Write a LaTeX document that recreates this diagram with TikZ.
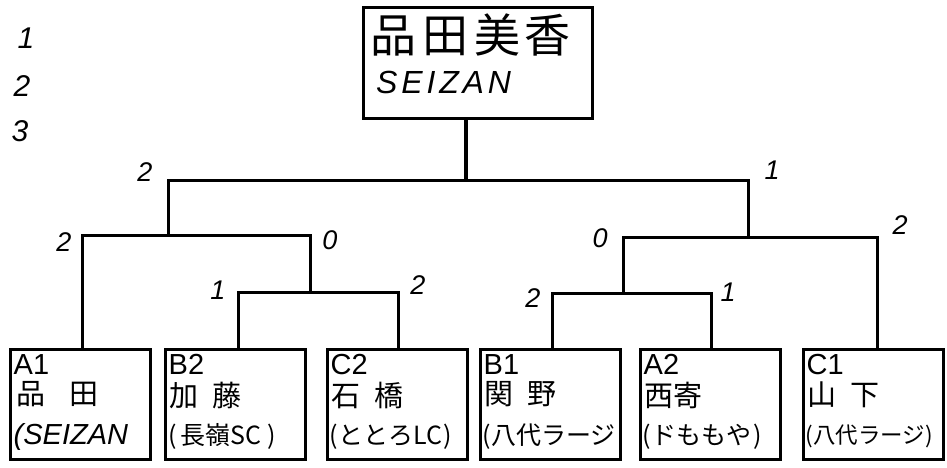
\documentclass[tikz,border=0pt]{standalone}
\usepackage{fontspec}
\setmainfont{Liberation Sans}
\newfontfamily\jp{Noto Sans CJK JP}
\begin{document}
\begin{tikzpicture}[x=1pt,y=-1pt,
  line/.style={line width=3pt,line cap=rect},
  box/.style={draw,line width=3pt,minimum width=140pt,minimum height=110pt,inner sep=0pt},
  topbox/.style={draw,line width=3pt,minimum width=229pt,minimum height=111pt,inner sep=0pt},
  seed/.style={anchor=north west,inner sep=0pt,font=\fontsize{29}{29}\selectfont},
  nm/.style={anchor=north west,inner sep=0pt,font=\jp\fontsize{29}{29}\selectfont},
  club/.style={anchor=north west,inner sep=0pt,font=\jp\fontsize{25}{25}\selectfont},
  score/.style={inner sep=0pt,font=\fontsize{27}{27}\selectfont\itshape},
  rank/.style={inner sep=0pt,font=\fontsize{30}{30}\selectfont\itshape}]
\useasboundingbox (0,0) rectangle (947,467);
\fill[white] (0,0) rectangle (947,467);

% rank list
\node[rank] (r1) at (26,38) {1};
\node[rank] (r2) at (22,86) {2};
\node[rank] (r3) at (20,131) {3};

% top box
\node[topbox] (top) at (477.5,62.5) {};
\node[anchor=north west,inner sep=0pt,font=\jp\fontsize{46}{46}\selectfont] (topname) at (370,14) {品\hspace{6pt}田\hspace{6pt}美\hspace{4pt}香};
\node[anchor=north west,inner sep=0pt,font=\fontsize{32}{32}\selectfont\itshape\addfontfeature{LetterSpace=12}] (topclub) at (376,71) {SEIZAN};

% player boxes
\node[box] (A1) at (80,404) {};
\node[box] (B2) at (235,404) {};
\node[box] (C2) at (397,404) {};
\node[box] (B1) at (550,404) {};
\node[box] (A2) at (710,404) {};
\node[box] (C1) at (873,404) {};

\node[seed] (A1s) at ([xshift=5pt,yshift=-7pt]A1.north west) {A1};
\node[nm]   (A1n) at ([xshift=8pt,yshift=-34pt]A1.north west) {品\hspace{24pt}田};
\node[club] (A1c) at ([xshift=5pt,yshift=-76pt]A1.north west) {\fontspec{Liberation Sans}\itshape\fontsize{29}{29}\selectfont (SEIZAN};

\node[seed] (B2s) at ([xshift=5pt,yshift=-7pt]B2.north west) {B2};
\node[nm]   (B2n) at ([xshift=6pt,yshift=-34pt]B2.north west) {加\hspace{14pt}藤};
\node[club] (B2c) at ([xshift=5pt,yshift=-76pt]B2.north west) {(\hspace{3pt}長嶺SC\hspace{6pt})};

\node[seed] (C2s) at ([xshift=5pt,yshift=-7pt]C2.north west) {C2};
\node[nm]   (C2n) at ([xshift=6pt,yshift=-34pt]C2.north west) {石\hspace{14pt}橋};
\node[club] (C2c) at ([xshift=4pt,yshift=-76pt]C2.north west) {(ととろLC\hspace{2pt})};

\node[seed] (B1s) at ([xshift=5pt,yshift=-7pt]B1.north west) {B1};
\node[nm]   (B1n) at ([xshift=6pt,yshift=-34pt]B1.north west) {関\hspace{14pt}野};
\node[club] (B1c) at ([xshift=4pt,yshift=-76pt]B1.north west) {(八代ラージ};

\node[seed] (A2s) at ([xshift=5pt,yshift=-7pt]A2.north west) {A2};
\node[nm]   (A2n) at ([xshift=6pt,yshift=-34pt]A2.north west) {西寄};
\node[club] (A2c) at ([xshift=4pt,yshift=-76pt]A2.north west) {(ドももや\hspace{2pt})};

\node[seed] (C1s) at ([xshift=5pt,yshift=-7pt]C1.north west) {C1};
\node[nm]   (C1n) at ([xshift=6pt,yshift=-34pt]C1.north west) {山\hspace{14pt}下};
\node[club,font=\jp\fontsize{22.5}{22.5}\selectfont] (C1c) at ([xshift=4pt,yshift=-77pt]C1.north west) {(八代ラージ)};

% bracket junctions
\coordinate (s0) at (466,180);
\coordinate (L) at (168,180);
\coordinate (R) at (748,180);
\coordinate (La) at (82,235);
\coordinate (Lb) at (310,235);
\coordinate (Lc) at (238,292);
\coordinate (Ld) at (398,292);
\coordinate (Ra) at (623,237);
\coordinate (Rb) at (877,237);
\coordinate (Rc) at (552,293);
\coordinate (Rd) at (711,293);

\draw[line,line width=4.5pt] (top.south -| s0) -- (s0);
\draw[line] (L) -- (R);
\draw[line] (L) -- (L |- La);
\draw[line] (La) -- (Lb);
\draw[line] (La) -- (La |- A1.north);
\draw[line] (Lb) -- (Lb |- Lc);
\draw[line] (Lc) -- (Ld);
\draw[line] (Lc) -- (Lc |- B2.north);
\draw[line] (Ld) -- (Ld |- C2.north);
\draw[line] (R) -- (R |- Ra);
\draw[line] (Ra) -- (Rb);
\draw[line] (Rb) -- (Rb |- C1.north);
\draw[line] (Ra) -- (Ra |- Rc);
\draw[line] (Rc) -- (Rd);
\draw[line] (Rc) -- (Rc |- B1.north);
\draw[line] (Rd) -- (Rd |- A2.north);

% scores
\node[score] (sc1) at (145,172) {2};
\node[score] (sc2) at (64,242) {2};
\node[score] (sc3) at (330,240) {0};
\node[score] (sc4) at (218,290) {1};
\node[score] (sc5) at (418,285) {2};
\node[score] (sc6) at (772,170) {1};
\node[score] (sc7) at (900,225) {2};
\node[score] (sc8) at (600,238) {0};
\node[score] (sc9) at (533,298) {2};
\node[score] (sc10) at (728,292) {1};
\end{tikzpicture}
\end{document}
